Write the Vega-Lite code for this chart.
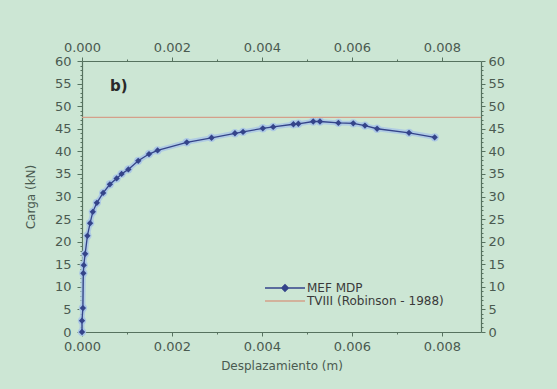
{
  "$schema": "https://vega.github.io/schema/vega-lite/v6.json",
  "width": 399,
  "height": 271,
  "autosize": {"type": "none"},
  "padding": {"left": 82, "top": 61, "right": 76, "bottom": 57},
  "background": "#cce6d4",
  "config": {
    "view": {"stroke": null},
    "font": "DejaVu Sans",
    "axis": {
      "domainColor": "#56725f",
      "tickColor": "#56725f",
      "domainWidth": 1.2,
      "labelColor": "#4a5a50",
      "labelFont": "DejaVu Sans",
      "labelFontSize": 13,
      "labelFlush": false,
      "labelOverlap": false,
      "titleColor": "#4a5a50",
      "titleFont": "DejaVu Sans",
      "titleFontSize": 12,
      "titleFontWeight": "normal",
      "grid": false
    }
  },
  "datasets": {
    "mef": [
      {"series": "MEF MDP", "desplazamiento": 0.0, "carga": 0.0},
      {"series": "MEF MDP", "desplazamiento": 0.0, "carga": 2.5},
      {"series": "MEF MDP", "desplazamiento": 0.00002, "carga": 5.3},
      {"series": "MEF MDP", "desplazamiento": 0.00003, "carga": 13.0},
      {"series": "MEF MDP", "desplazamiento": 0.00004, "carga": 14.8},
      {"series": "MEF MDP", "desplazamiento": 0.00007, "carga": 17.3},
      {"series": "MEF MDP", "desplazamiento": 0.00012, "carga": 21.3},
      {"series": "MEF MDP", "desplazamiento": 0.00018, "carga": 24.1},
      {"series": "MEF MDP", "desplazamiento": 0.00024, "carga": 26.6},
      {"series": "MEF MDP", "desplazamiento": 0.00033, "carga": 28.6},
      {"series": "MEF MDP", "desplazamiento": 0.00047, "carga": 30.8},
      {"series": "MEF MDP", "desplazamiento": 0.00062, "carga": 32.7},
      {"series": "MEF MDP", "desplazamiento": 0.00077, "carga": 34.0},
      {"series": "MEF MDP", "desplazamiento": 0.00088, "carga": 35.0},
      {"series": "MEF MDP", "desplazamiento": 0.00103, "carga": 36.0},
      {"series": "MEF MDP", "desplazamiento": 0.00125, "carga": 37.9},
      {"series": "MEF MDP", "desplazamiento": 0.00149, "carga": 39.4},
      {"series": "MEF MDP", "desplazamiento": 0.00168, "carga": 40.2},
      {"series": "MEF MDP", "desplazamiento": 0.00233, "carga": 42.0},
      {"series": "MEF MDP", "desplazamiento": 0.00288, "carga": 43.0},
      {"series": "MEF MDP", "desplazamiento": 0.0034, "carga": 44.0},
      {"series": "MEF MDP", "desplazamiento": 0.00358, "carga": 44.3},
      {"series": "MEF MDP", "desplazamiento": 0.00402, "carga": 45.1},
      {"series": "MEF MDP", "desplazamiento": 0.00425, "carga": 45.4},
      {"series": "MEF MDP", "desplazamiento": 0.0047, "carga": 46.0},
      {"series": "MEF MDP", "desplazamiento": 0.00481, "carga": 46.1},
      {"series": "MEF MDP", "desplazamiento": 0.00514, "carga": 46.6},
      {"series": "MEF MDP", "desplazamiento": 0.00529, "carga": 46.6},
      {"series": "MEF MDP", "desplazamiento": 0.0057, "carga": 46.3},
      {"series": "MEF MDP", "desplazamiento": 0.00603, "carga": 46.2},
      {"series": "MEF MDP", "desplazamiento": 0.00629, "carga": 45.7},
      {"series": "MEF MDP", "desplazamiento": 0.00656, "carga": 45.0},
      {"series": "MEF MDP", "desplazamiento": 0.00727, "carga": 44.1},
      {"series": "MEF MDP", "desplazamiento": 0.00784, "carga": 43.1}
    ],
    "tviii": [
      {"series": "TVIII (Robinson - 1988)", "carga": 47.5}
    ],
    "panel": [
      {"label": "b)", "desplazamiento": 0.00082, "carga": 54.5}
    ]
  },
  "layer": [
    {
      "data": {"name": "mef"},
      "mark": {"type": "line", "color": "#a9c5e6", "strokeWidth": 5, "opacity": 0.8},
      "encoding": {
        "x": {"field": "desplazamiento", "type": "quantitative",
              "scale": {"domain": [0, 0.00887], "nice": false, "zero": false},
              "axis": {"orient": "top", "title": null, "values": [0, 0.002, 0.004, 0.006, 0.008], "format": ".3f", "tickSize": 4, "labelPadding": 3}},
        "y": {"field": "carga", "type": "quantitative",
              "scale": {"domain": [0, 60], "nice": false},
              "axis": {"orient": "right", "title": null, "values": [0,5,10,15,20,25,30,35,40,45,50,55,60], "tickSize": 4, "labelPadding": 3}}
      }
    },
    {
      "data": {"name": "mef"},
      "mark": {"type": "point", "shape": "circle", "filled": true, "color": "#a9c5e6", "size": 70, "opacity": 0.9},
      "encoding": {
        "x": {"field": "desplazamiento", "type": "quantitative",
              "scale": {"domain": [0, 0.00887], "nice": false, "zero": false},
              "axis": {"orient": "bottom", "title": null, "values": [0.001, 0.003, 0.005, 0.007], "labels": false, "domain": false, "tickSize": 2}},
        "y": {"field": "carga", "type": "quantitative",
              "scale": {"domain": [0, 60], "nice": false},
              "axis": {"orient": "left", "title": null, "values": [1,2,3,4,6,7,8,9,11,12,13,14,16,17,18,19,21,22,23,24,26,27,28,29,31,32,33,34,36,37,38,39,41,42,43,44,46,47,48,49,51,52,53,54,56,57,58,59], "labels": false, "domain": false, "tickSize": 2}}
      }
    },
    {
      "data": {"name": "mef"},
      "mark": {"type": "line", "strokeWidth": 1.3},
      "encoding": {
        "x": {"field": "desplazamiento", "type": "quantitative",
              "scale": {"domain": [0, 0.00887], "nice": false, "zero": false},
              "axis": {"orient": "bottom", "title": "Desplazamiento (m)", "values": [0, 0.002, 0.004, 0.006, 0.008], "format": ".3f", "tickSize": 4, "labelPadding": 4, "titlePadding": 7}},
        "y": {"field": "carga", "type": "quantitative",
              "scale": {"domain": [0, 60], "nice": false},
              "axis": {"orient": "left", "title": "Carga (kN)", "values": [0,5,10,15,20,25,30,35,40,45,50,55,60], "tickSize": 5, "labelPadding": 6, "titlePadding": 17}},
        "color": {"field": "series", "type": "nominal",
                  "scale": {"domain": ["MEF MDP", "TVIII (Robinson - 1988)"], "range": ["#34448a", "#d4a08a"]},
                  "legend": {
                    "title": null, "orient": "none", "legendX": 197, "legendY": 221,
                    "padding": 0,
                    "symbolType": "M-4,0H4", "symbolSize": 100, "symbolStrokeWidth": 1.5,
                    "labelFont": "DejaVu Sans", "labelFontSize": 12, "labelColor": "#3a3a3a", "labelOffset": 16,
                    "rowPadding": -3,
                    "encode": {
                      "symbols": {
                        "update": {
                          "shape": [{"test": "datum.value === 'MEF MDP'", "value": "M-4,0H4M0,-0.64L0.64,0L0,0.64L-0.64,0Z"}, {"value": "M-4,0H4"}],
                          "fill": [{"test": "datum.value === 'MEF MDP'", "value": "#34448a"}, {"value": "transparent"}]
                        }
                      }
                    }
                  }}
      }
    },
    {
      "data": {"name": "mef"},
      "mark": {"type": "point", "shape": "diamond", "filled": true, "color": "#34448a", "size": 40, "opacity": 1},
      "encoding": {
        "x": {"field": "desplazamiento", "type": "quantitative",
              "scale": {"domain": [0, 0.00887], "nice": false, "zero": false},
              "axis": {"orient": "top", "title": null, "values": [0.001, 0.003, 0.005, 0.007], "labels": false, "domain": false, "tickSize": 2}},
        "y": {"field": "carga", "type": "quantitative",
              "scale": {"domain": [0, 60], "nice": false},
              "axis": {"orient": "right", "title": null, "values": [1,2,3,4,6,7,8,9,11,12,13,14,16,17,18,19,21,22,23,24,26,27,28,29,31,32,33,34,36,37,38,39,41,42,43,44,46,47,48,49,51,52,53,54,56,57,58,59], "labels": false, "domain": false, "tickSize": 2}}
      }
    },
    {
      "data": {"name": "tviii"},
      "mark": {"type": "rule", "strokeWidth": 1.2},
      "encoding": {
        "y": {"field": "carga", "type": "quantitative", "scale": {"domain": [0, 60], "nice": false}, "axis": null},
        "color": {"field": "series", "type": "nominal"}
      }
    },
    {
      "data": {"name": "panel"},
      "mark": {"type": "text", "fontWeight": "bold", "fontSize": 15, "color": "#2a2a2a", "font": "DejaVu Sans"},
      "encoding": {
        "x": {"field": "desplazamiento", "type": "quantitative", "scale": {"domain": [0, 0.00887], "nice": false, "zero": false}, "axis": null},
        "y": {"field": "carga", "type": "quantitative", "scale": {"domain": [0, 60], "nice": false}, "axis": null},
        "text": {"field": "label"}
      }
    }
  ],
  "resolve": {"axis": {"x": "independent", "y": "independent"}}
}
